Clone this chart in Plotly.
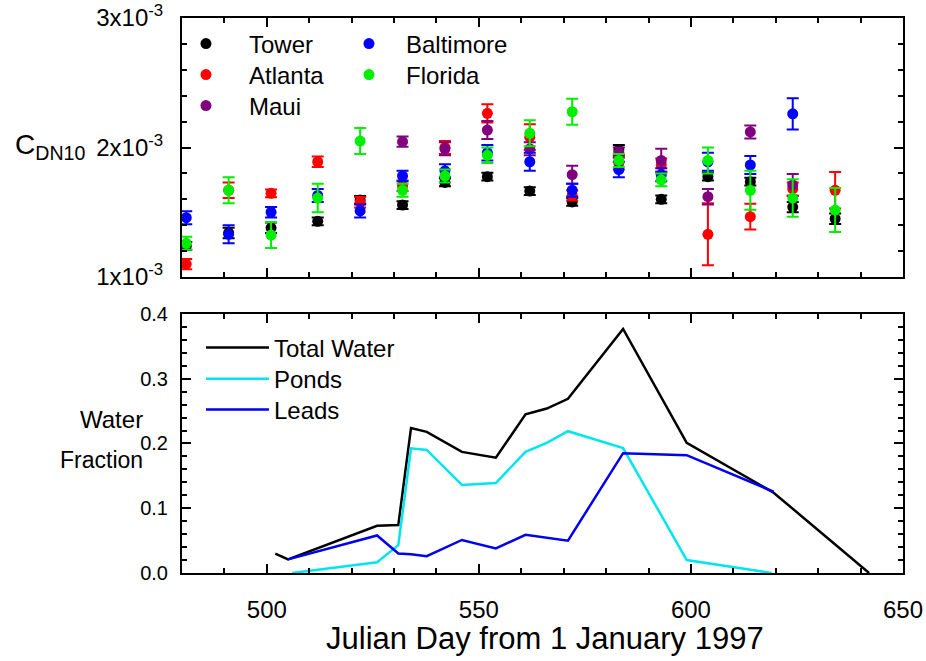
import plotly.graph_objects as go

# ---------------- data ----------------
# Julian day of each drag-coefficient estimate (top panel)
days = [481, 491, 501, 512, 522, 532, 542, 552, 562, 572, 583, 593, 604, 614, 624, 634]

# C_DN10 values in units of 1e-3
tower = [1.24, 1.34, 1.38, 1.43, 1.595, 1.556, 1.73, 1.775, 1.664, 1.58, 1.98, 1.60, 1.775, 1.736, 1.54, 1.45]
tower_err = [0.03, 0.04, 0.04, 0.03, 0.03, 0.03, 0.03, 0.03, 0.03, 0.03, 0.04, 0.03, 0.03, 0.03, 0.04, 0.04]

atlanta = [1.10, 1.67, 1.646, 1.89, 1.577, 1.705, 2.00, 2.264, 2.08, 1.63, 1.88, 1.865, 1.33, 1.466, 1.68, 1.67]
atlanta_err = [0.04, 0.06, 0.03, 0.04, 0.04, 0.04, 0.05, 0.07, 0.10, 0.04, 0.05, 0.05, 0.24, 0.10, 0.05, 0.14]

baltimore = [1.458, 1.33, 1.50, 1.63, 1.51, 1.78, 1.82, 1.96, 1.89, 1.67, 1.83, 1.79, 1.89, 1.865, 2.26, None]
baltimore_err = [0.05, 0.07, 0.04, 0.05, 0.05, 0.04, 0.05, 0.06, 0.07, 0.05, 0.06, 0.05, 0.07, 0.07, 0.12, 0.0]

florida = [1.26, 1.67, 1.324, 1.61, 2.05, 1.67, 1.78, 1.94, 2.11, 2.276, 1.90, 1.75, 1.90, 1.67, 1.61, 1.517]
florida_err = [0.05, 0.10, 0.10, 0.11, 0.10, 0.05, 0.05, 0.06, 0.10, 0.10, 0.05, 0.05, 0.10, 0.15, 0.145, 0.17]

maui = [None, None, None, None, None, 2.045, 1.99, 2.135, 1.99, 1.79, 1.96, 1.90, 1.62, 2.12, 1.71, None]
maui_err = [0, 0, 0, 0, 0, 0.04, 0.05, 0.07, 0.05, 0.07, 0.04, 0.09, 0.06, 0.05, 0.085, 0]

# Water fractions (bottom panel)
total_days = [502, 505, 526, 531, 534, 537.7, 546, 554, 561, 566, 571, 584, 599, 619.5, 642]
total_water = [0.030, 0.021, 0.073, 0.074, 0.224, 0.218, 0.187, 0.178, 0.245, 0.254, 0.269, 0.377, 0.201, 0.124, 0.0]

ponds_days = [506, 526, 531, 534, 537.7, 546, 554, 561, 566, 571, 584, 599, 619]
ponds = [0.0, 0.0165, 0.043, 0.1925, 0.19, 0.136, 0.139, 0.187, 0.201, 0.219, 0.193, 0.020, 0.0]

leads_days = [505, 526, 531, 534, 537.7, 546, 554, 561, 571, 584, 599, 619.5]
leads = [0.021, 0.058, 0.030, 0.029, 0.026, 0.051, 0.038, 0.059, 0.050, 0.185, 0.182, 0.1255]

top_tickvals = [1, 2, 3]
top_ticktext = ["1x10<sup>-3</sup>", "2x10<sup>-3</sup>", "3x10<sup>-3</sup>"]
x_tickvals = [500, 550, 600, 650]

# ---------------- figure ----------------
FONT = "Liberation Sans, Arial, sans-serif"
fig = go.Figure()


def station(name, vals, errs, color, legend):
    fig.add_trace(go.Scatter(
        x=days, y=vals, mode="markers", name=name, legend=legend,
        marker=dict(color=color, size=11, line=dict(width=0)),
        error_y=dict(type="data", array=errs, visible=True, color=color,
                     thickness=2, width=6),
        xaxis="x", yaxis="y"))


station("Tower", tower, tower_err, "#000000", "legend")
station("Atlanta", atlanta, atlanta_err, "#ff0000", "legend2")
station("Maui", maui, maui_err, "#800080", "legend3")
station("Baltimore", baltimore, baltimore_err, "#0000ff", "legend4")
station("Florida", florida, florida_err, "#00ee00", "legend5")

fig.add_trace(go.Scatter(x=total_days, y=total_water, mode="lines", name="Total Water",
                         line=dict(color="#000000", width=2.5), xaxis="x2", yaxis="y2",
                         legend="legend6"))
fig.add_trace(go.Scatter(x=ponds_days, y=ponds, mode="lines", name="Ponds",
                         line=dict(color="#00e5ee", width=2.5), xaxis="x2", yaxis="y2",
                         legend="legend7"))
fig.add_trace(go.Scatter(x=leads_days, y=leads, mode="lines", name="Leads",
                         line=dict(color="#0000ee", width=2.5), xaxis="x2", yaxis="y2",
                         legend="legend8"))

axis_common = dict(showline=True, linecolor="black", linewidth=2, mirror="allticks",
                   ticks="inside", tickcolor="black", tickwidth=1.5, ticklen=9,
                   showgrid=False, zeroline=False, automargin=False)


def leg(x, y, iw):
    return dict(x=x, y=y, xanchor="left", yanchor="middle", itemwidth=iw,
                font=dict(family=FONT, size=24, color="black"), bgcolor="rgba(0,0,0,0)")


fig.update_layout(
    width=926, height=661,
    margin=dict(l=182, r=23, t=18, b=88, autoexpand=False),
    paper_bgcolor="white", plot_bgcolor="white",
    font=dict(family=FONT, color="black"),
    xaxis=dict(domain=[0, 1], anchor="y", range=[480, 650], matches="x2",
               tickvals=x_tickvals, showticklabels=False,
               minor=dict(dtick=10, tick0=480, ticklen=5, ticks="inside", tickcolor="black"),
               **axis_common),
    yaxis=dict(domain=[0.5333, 1], anchor="x", range=[1, 3],
               tickvals=top_tickvals, ticktext=top_ticktext,
               tickfont=dict(family=FONT, size=24, color="black"),
               minor=dict(dtick=0.2, ticklen=5, ticks="inside", tickcolor="black"),
               ticklabelstandoff=12,
               **axis_common),
    xaxis2=dict(domain=[0, 1], anchor="y2", range=[480, 650],
                tickvals=x_tickvals, ticklabelstandoff=14,
                tickfont=dict(family=FONT, size=24, color="black"),
                minor=dict(dtick=10, tick0=480, ticklen=5, ticks="inside", tickcolor="black"),
                **axis_common),
    yaxis2=dict(domain=[0, 0.4667], anchor="x2", range=[0, 0.4], dtick=0.1, tickformat=".1f",
                tickfont=dict(family=FONT, size=20, color="black"),
                minor=dict(dtick=0.02, ticklen=5, ticks="inside", tickcolor="black"),
                ticklabelstandoff=8,
                **axis_common),
    legend=leg(-0.0264, 0.9532, 76),
    legend2=leg(-0.0264, 0.8973, 76),
    legend3=leg(-0.0264, 0.8414, 76),
    legend4=leg(0.208, 0.9532, 64),
    legend5=leg(0.208, 0.8973, 64),
    legend6=leg(0.0263, 0.4054, 63),
    legend7=leg(0.0263, 0.3495, 63),
    legend8=leg(0.0263, 0.2937, 63),
    showlegend=True,
    annotations=[
        dict(text="C<sub>DN10</sub>", xref="paper", yref="paper", x=-0.183, y=0.768,
             xanchor="center", yanchor="middle", showarrow=False,
             font=dict(family=FONT, size=28, color="black")),
        dict(text="Water", xref="paper", yref="paper", x=-0.0513, y=0.2757,
             xanchor="right", yanchor="middle", showarrow=False,
             font=dict(family=FONT, size=24, color="black")),
        dict(text="Fraction", xref="paper", yref="paper", x=-0.0513, y=0.2036,
             xanchor="right", yanchor="middle", showarrow=False,
             font=dict(family=FONT, size=23, color="black")),
        dict(text="Julian Day from 1 January 1997", xref="paper", yref="paper", x=0.5035, y=-0.1189,
             xanchor="center", yanchor="middle", showarrow=False,
             font=dict(family=FONT, size=31, color="black")),
    ],
)

fig.write_html("out.html")
